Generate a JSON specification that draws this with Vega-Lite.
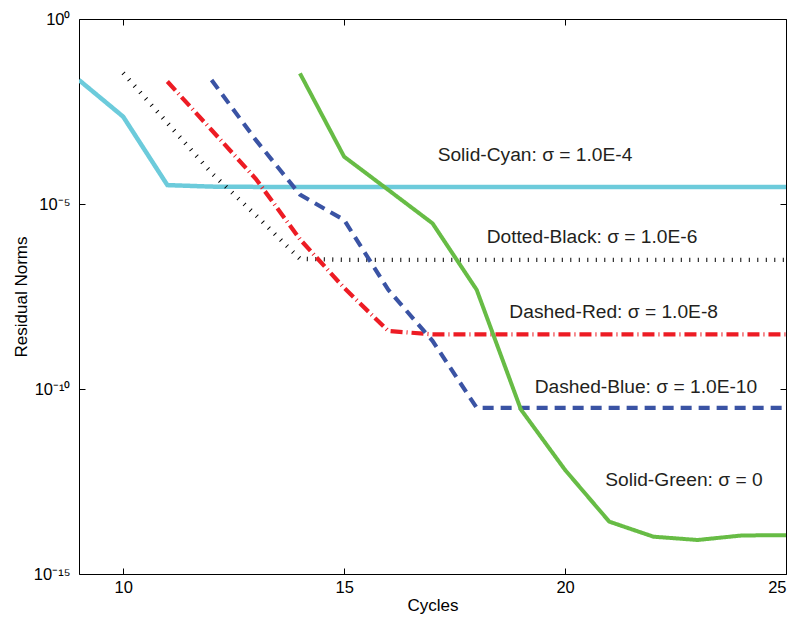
{
  "$schema": "https://vega.github.io/schema/vega-lite/v6.json",
  "autosize": {"type": "none"},
  "padding": {"left": 79, "top": 19, "right": 11, "bottom": 48},
  "width": 707,
  "height": 555,
  "background": "white",
  "config": {
    "view": {"stroke": "black", "strokeWidth": 1},
    "font": "Liberation Sans",
    "axis": {
      "grid": false,
      "ticks": true,
      "domainColor": "black",
      "tickColor": "black",
      "tickWidth": 1,
      "labelColor": "black",
      "titleColor": "black",
      "labelFont": "Liberation Sans",
      "titleFont": "Liberation Sans",
      "titleFontWeight": "normal",
      "labelFontSize": 16.5,
      "titleFontSize": 17
    }
  },
  "datasets": {
    "lines": [
      {"series": "cyan", "cycle": 9, "norm": 2.24e-2},
      {"series": "cyan", "cycle": 10, "norm": 2.29e-3},
      {"series": "cyan", "cycle": 11, "norm": 3.24e-5},
      {"series": "cyan", "cycle": 12, "norm": 2.95e-5},
      {"series": "cyan", "cycle": 13, "norm": 2.9e-5},
      {"series": "cyan", "cycle": 14, "norm": 2.9e-5},
      {"series": "cyan", "cycle": 15, "norm": 2.9e-5},
      {"series": "cyan", "cycle": 16, "norm": 2.9e-5},
      {"series": "cyan", "cycle": 17, "norm": 2.9e-5},
      {"series": "cyan", "cycle": 18, "norm": 2.9e-5},
      {"series": "cyan", "cycle": 19, "norm": 2.9e-5},
      {"series": "cyan", "cycle": 20, "norm": 2.9e-5},
      {"series": "cyan", "cycle": 21, "norm": 2.9e-5},
      {"series": "cyan", "cycle": 22, "norm": 2.9e-5},
      {"series": "cyan", "cycle": 23, "norm": 2.9e-5},
      {"series": "cyan", "cycle": 24, "norm": 2.9e-5},
      {"series": "cyan", "cycle": 25, "norm": 2.9e-5},
      {"series": "black", "cycle": 10, "norm": 3.47e-2},
      {"series": "black", "cycle": 11, "norm": 1.55e-3},
      {"series": "black", "cycle": 12, "norm": 6.9e-5},
      {"series": "black", "cycle": 13, "norm": 5.0e-6},
      {"series": "black", "cycle": 14, "norm": 3.3e-7},
      {"series": "black", "cycle": 15, "norm": 3.1e-7},
      {"series": "black", "cycle": 16, "norm": 3.1e-7},
      {"series": "black", "cycle": 17, "norm": 3.1e-7},
      {"series": "black", "cycle": 18, "norm": 3.1e-7},
      {"series": "black", "cycle": 19, "norm": 3.1e-7},
      {"series": "black", "cycle": 20, "norm": 3.1e-7},
      {"series": "black", "cycle": 21, "norm": 3.1e-7},
      {"series": "black", "cycle": 22, "norm": 3.1e-7},
      {"series": "black", "cycle": 23, "norm": 3.1e-7},
      {"series": "black", "cycle": 24, "norm": 3.1e-7},
      {"series": "black", "cycle": 25, "norm": 3.1e-7},
      {"series": "red", "cycle": 11, "norm": 2.04e-2},
      {"series": "red", "cycle": 12, "norm": 1.0e-3},
      {"series": "red", "cycle": 13, "norm": 4.8e-5},
      {"series": "red", "cycle": 14, "norm": 1.12e-6},
      {"series": "red", "cycle": 15, "norm": 5.4e-8},
      {"series": "red", "cycle": 16, "norm": 3.7e-9},
      {"series": "red", "cycle": 17, "norm": 3.0e-9},
      {"series": "red", "cycle": 18, "norm": 3.0e-9},
      {"series": "red", "cycle": 19, "norm": 3.0e-9},
      {"series": "red", "cycle": 20, "norm": 3.0e-9},
      {"series": "red", "cycle": 21, "norm": 3.0e-9},
      {"series": "red", "cycle": 22, "norm": 3.0e-9},
      {"series": "red", "cycle": 23, "norm": 3.0e-9},
      {"series": "red", "cycle": 24, "norm": 3.0e-9},
      {"series": "red", "cycle": 25, "norm": 3.0e-9},
      {"series": "blue", "cycle": 12, "norm": 2.24e-2},
      {"series": "blue", "cycle": 13, "norm": 5.4e-4},
      {"series": "blue", "cycle": 14, "norm": 1.8e-5},
      {"series": "blue", "cycle": 15, "norm": 3.7e-6},
      {"series": "blue", "cycle": 16, "norm": 4.8e-8},
      {"series": "blue", "cycle": 17, "norm": 2.0e-9},
      {"series": "blue", "cycle": 18, "norm": 3.1e-11},
      {"series": "blue", "cycle": 19, "norm": 3.1e-11},
      {"series": "blue", "cycle": 20, "norm": 3.1e-11},
      {"series": "blue", "cycle": 21, "norm": 3.1e-11},
      {"series": "blue", "cycle": 22, "norm": 3.1e-11},
      {"series": "blue", "cycle": 23, "norm": 3.1e-11},
      {"series": "blue", "cycle": 24, "norm": 3.1e-11},
      {"series": "blue", "cycle": 25, "norm": 3.1e-11},
      {"series": "green", "cycle": 14, "norm": 3.4e-2},
      {"series": "green", "cycle": 15, "norm": 1.9e-4},
      {"series": "green", "cycle": 16, "norm": 2.4e-5},
      {"series": "green", "cycle": 17, "norm": 3.0e-6},
      {"series": "green", "cycle": 18, "norm": 4.8e-8},
      {"series": "green", "cycle": 19, "norm": 2.8e-11},
      {"series": "green", "cycle": 20, "norm": 6.5e-13},
      {"series": "green", "cycle": 21, "norm": 2.6e-14},
      {"series": "green", "cycle": 22, "norm": 1.02e-14},
      {"series": "green", "cycle": 23, "norm": 8.3e-15},
      {"series": "green", "cycle": 24, "norm": 1.1e-14},
      {"series": "green", "cycle": 25, "norm": 1.12e-14}
    ],
    "labels": [
      {"text": "Solid-Cyan: σ = 1.0E-4", "cycle": 19.32, "norm": 2.1e-4},
      {"text": "Dotted-Black: σ = 1.0E-6", "cycle": 20.61, "norm": 1.29e-6},
      {"text": "Dashed-Red: σ = 1.0E-8", "cycle": 21.1, "norm": 1.2e-8},
      {"text": "Dashed-Blue: σ = 1.0E-10", "cycle": 21.83, "norm": 1.1e-10},
      {"text": "Solid-Green: σ = 0", "cycle": 22.69, "norm": 3.5e-13}
    ]
  },
  "resolve": {"axis": {"x": "independent", "y": "independent"}},
  "layer": [
    {
      "data": {"name": "lines"},
      "mark": {"type": "line", "strokeCap": "butt", "strokeJoin": "miter", "clip": true},
      "encoding": {
        "x": {
          "field": "cycle", "type": "quantitative",
          "scale": {"domain": [9, 25], "nice": false, "zero": false},
          "axis": {"values": [10, 15, 20, 25], "title": "Cycles", "offset": -6, "tickSize": 6, "labelPadding": 5, "titlePadding": 2, "domain": false}
        },
        "y": {
          "field": "norm", "type": "quantitative",
          "scale": {"type": "log", "domain": [1e-15, 1], "nice": false},
          "axis": {
            "values": [1, 1e-5, 1e-10, 1e-15],
            "title": "Residual Norms",
            "offset": -6,
            "tickSize": 6,
            "labelPadding": 9,
            "titlePadding": 3,
            "domain": false,
            "labelExpr": "round(log(datum.value)/LN10) == 0 ? '10⁰' : round(log(datum.value)/LN10) == -5 ? '10⁻⁵' : round(log(datum.value)/LN10) == -10 ? '10⁻¹⁰' : '10⁻¹⁵'"
          }
        },
        "detail": {"field": "series"},
        "color": {
          "field": "series", "type": "nominal", "legend": null,
          "scale": {"domain": ["cyan", "black", "red", "blue", "green"], "range": ["#6CCBDB", "#000000", "#ED1C24", "#3A53A4", "#67BC45"]}
        },
        "strokeDash": {
          "field": "series", "type": "nominal", "legend": null,
          "scale": {"domain": ["cyan", "black", "red", "blue", "green"], "range": [[1, 0], [1, 7.5], [12, 4, 1, 4], [11, 7], [1, 0]]}
        },
        "strokeWidth": {
          "field": "series", "type": "nominal", "legend": null,
          "scale": {"domain": ["cyan", "black", "red", "blue", "green"], "range": [4.5, 4, 4.5, 4.5, 4.5]}
        }
      }
    },
    {
      "data": {"name": "labels"},
      "mark": {"type": "text", "fontSize": 19.2, "font": "Liberation Sans", "color": "#231F20", "align": "center", "baseline": "middle"},
      "encoding": {
        "x": {"field": "cycle", "type": "quantitative", "axis": {"orient": "top", "values": [10, 15, 20, 25], "labels": false, "title": null, "offset": -6, "tickSize": 6, "domain": false}},
        "y": {"field": "norm", "type": "quantitative", "axis": {"orient": "right", "values": [1, 1e-5, 1e-10, 1e-15], "labels": false, "title": null, "offset": -6, "tickSize": 6, "domain": false}},
        "text": {"field": "text"}
      }
    }
  ]
}
